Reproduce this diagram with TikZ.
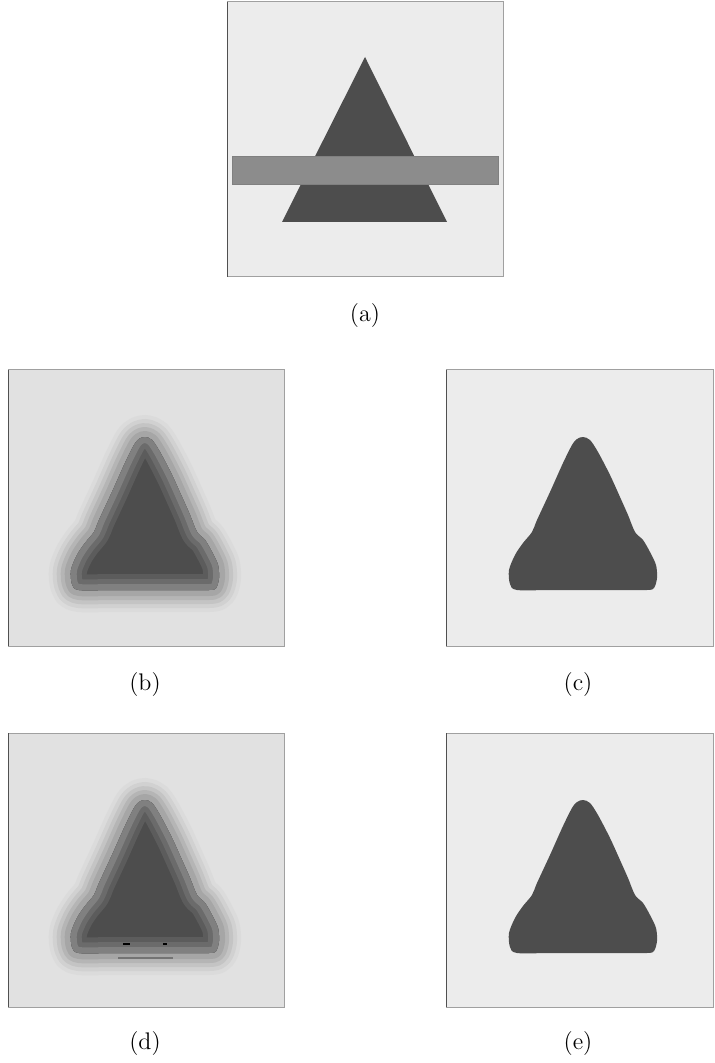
\documentclass[tikz,border=0pt]{standalone}
\usepackage{xcolor}
\definecolor{grund}{HTML}{ECECEC}
\definecolor{grundb}{HTML}{E1E1E1}
\definecolor{kern}{HTML}{4D4D4D}
\definecolor{balken}{HTML}{8C8C8C}
\definecolor{rand}{HTML}{A0A0A0}
\definecolor{randdunkel}{HTML}{505050}
\tikzset{rahmen/.style={draw=rand,line width=0.5pt},
  linkskante/.style={randdunkel,line width=0.5pt},
  unterschrift/.style={inner sep=0,font=\fontsize{12}{14}\selectfont},
  schicht/.style={line join=round,line cap=round}}
\newcommand{\dreieck}{plot[smooth cycle,tension=0.5] coordinates {(0,0) (7,3) (15,15) (27,38) (37,60)
  (45,78) (52,95) (60,103) (67,115) (73,128) (74,141) (71,151) (64,153) (30,153) (-30,153)
  (-66,153) (-73,147) (-74,133) (-68,118) (-60,106) (-51,95) (-46,83) (-33,55) (-20,26)
  (-11,8) (-6,2)}}
\newcommand{\feld}[3][grund]{\fill[#1] (#2) rectangle (#3);
  \draw[rahmen] (#2) rectangle (#3);}
\newcommand{\unscharf}[1]{%
  \begin{scope}[shift={(#1)}]
  \foreach \w/\g in {22/14,18/18,14/23,10/29,6/35}{\filldraw[schicht,black!\g,line width=\w pt] \dreieck;}
  \fill[black!42] \dreieck;
  \clip \dreieck;
  \fill[kern] (-100,-20) rectangle (100,180);
  \foreach \w/\g in {16/64,11/58,6/50}{\draw[schicht,black!\g,line width=\w pt] \dreieck;}
  \end{scope}}

\begin{document}
\begin{tikzpicture}[x=0.5pt,y=-0.5pt]
\useasboundingbox (0,0) rectangle (714,1063);
\feld{227,2}{503,277}
\draw[linkskante] (227,2) -- (227,277);
\fill[kern] (365,57) -- (447,222) -- (282,222) -- cycle;
\fill[balken] (232,156) rectangle (498,184);
\draw[black!50,line width=0.3pt] (232,156) rectangle (498,184);
\node[unterschrift] (lbla) at (365,316) {(a)};
\feld[grundb]{8,370}{284,646}
\draw[linkskante] (8,370) -- (8,646);
\unscharf{145,437}
\node[unterschrift] (lblb) at (145,685) {(b)};
\feld{446,370}{713,646}
\draw[linkskante] (446,370) -- (446,646);
\fill[kern,shift={(583,437)}] \dreieck;
\node[unterschrift] (lblc) at (578,685) {(c)};
\feld[grundb]{8,733}{284,1007}
\draw[linkskante] (8,733) -- (8,1007);
\unscharf{145,800}
\draw[black!55,line width=0.6pt] (118,958) -- (173,958);
\draw[black,line width=0.8pt] (123,944) -- (130,944) (163,944) -- (167,944);
\node[unterschrift] (lbld) at (145,1043) {(d)};
\feld{446,733}{713,1007}
\draw[linkskante] (446,733) -- (446,1007);
\fill[kern,shift={(583,800)}] \dreieck;
\node[unterschrift] (lble) at (578,1043) {(e)};
\end{tikzpicture}
\end{document}
